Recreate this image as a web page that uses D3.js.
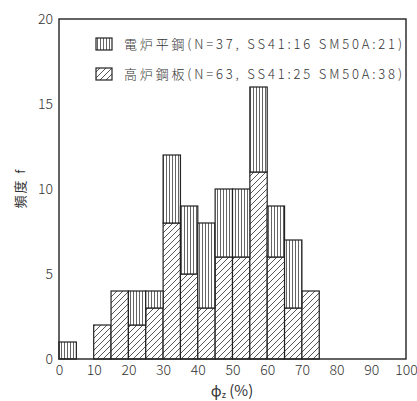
<!DOCTYPE html>
<html>
<head>
<meta charset="utf-8">
<script src="https://cdn.jsdelivr.net/npm/d3@7"></script>
<style>
  html, body { margin: 0; padding: 0; background: #fff; }
  svg { display: block; }
  text { font-family: "Noto Sans CJK JP", "Noto Sans", sans-serif; fill: #333; }
</style>
</head>
<body>
<svg id="chart" width="417" height="401"></svg>
<script>
// Bin starts (φz, %), bin width 5
const binStarts = [0, 5, 10, 15, 20, 25, 30, 35, 40, 45, 50, 55, 60, 65, 70];
const binWidth = 5;
// Counts per bin
const blastFurnacePlate = [0, 0, 2, 4, 2, 3, 8, 5, 3, 6, 6, 11, 6, 3, 4];   // 高炉鋼板
const electricFurnaceFlat = [1, 0, 0, 0, 2, 1, 4, 4, 5, 4, 4, 5, 3, 4, 0];  // 電炉平鋼
const seriesKeys = ["blast", "electric"];
const legendLabels = [
  "電炉平鋼(N=37, SS41:16 SM50A:21)",
  "高炉鋼板(N=63, SS41:25 SM50A:38)"
];
const xTicks = [0, 10, 20, 30, 40, 50, 60, 70, 80, 90, 100];
const yTicks = [0, 5, 10, 15, 20];

const svg = d3.select("#chart");
const plotLeft = 59, plotRight = 406, plotTop = 19, plotBottom = 359;

const x = d3.scaleLinear().domain([0, 100]).range([plotLeft, plotRight]);
const y = d3.scaleLinear().domain([0, 20]).range([plotBottom, plotTop]);

// Fill patterns: vertical lines for 電炉平鋼, diagonal hatch for 高炉鋼板
const defs = svg.append("defs");
const pv = defs.append("pattern").attr("id", "vlines")
  .attr("patternUnits", "userSpaceOnUse").attr("width", 3).attr("height", 10);
pv.append("rect").attr("width", 3).attr("height", 10).attr("fill", "#fff");
pv.append("line").attr("x1", 1.5).attr("x2", 1.5).attr("y1", 0).attr("y2", 10)
  .attr("stroke", "#555").attr("stroke-width", 0.9);
const pd = defs.append("pattern").attr("id", "diag")
  .attr("patternUnits", "userSpaceOnUse").attr("width", 6).attr("height", 6);
pd.append("rect").attr("width", 6).attr("height", 6).attr("fill", "#fff");
pd.append("path").attr("d", "M-1,1 l2,-2 M0,6 l6,-6 M5,7 l2,-2")
  .attr("stroke", "#444").attr("stroke-width", 0.9);
const fills = { blast: "url(#diag)", electric: "url(#vlines)" };

const rows = binStarts.map((b, i) => ({ bin: b, blast: blastFurnacePlate[i], electric: electricFurnaceFlat[i] }));
const stacked = d3.stack().keys(seriesKeys)(rows);

svg.append("g").selectAll("g").data(stacked).join("g")
  .attr("fill", d => fills[d.key])
  .selectAll("rect").data(d => d.filter(s => s[1] > s[0])).join("rect")
  .attr("x", d => x(d.data.bin))
  .attr("width", d => x(d.data.bin + binWidth) - x(d.data.bin))
  .attr("y", d => y(d[1]))
  .attr("height", d => y(d[0]) - y(d[1]))
  .attr("stroke", "#222").attr("stroke-width", 1.2);

// Frame
svg.append("rect").attr("x", plotLeft).attr("y", plotTop)
  .attr("width", plotRight - plotLeft).attr("height", plotBottom - plotTop)
  .attr("fill", "none").attr("stroke", "#222").attr("stroke-width", 1.4);

// Axes (labels only)
const xAxis = svg.append("g").attr("transform", `translate(0,${plotBottom})`)
  .call(d3.axisBottom(x).tickValues(xTicks).tickSize(0).tickPadding(6).tickFormat(d3.format("d")));
xAxis.select(".domain").remove();
xAxis.selectAll("text").attr("font-size", 14).attr("font-weight", 300).attr("fill", "#555");

const yAxis = svg.append("g").attr("transform", `translate(${plotLeft},0)`)
  .call(d3.axisLeft(y).tickValues(yTicks).tickSize(0).tickPadding(6).tickFormat(d3.format("d")));
yAxis.select(".domain").remove();
yAxis.selectAll("text").attr("font-size", 14).attr("font-weight", 300).attr("fill", "#555");

// Axis titles
const xt = svg.append("text").attr("x", 232).attr("y", 396)
  .attr("text-anchor", "middle").attr("font-size", 15).attr("fill", "#444");
xt.append("tspan").text("ϕ");
xt.append("tspan").attr("font-size", 9).attr("dy", 2).text("z");
xt.append("tspan").attr("dy", -2).text(" (%)");

svg.append("text").attr("transform", "translate(25,188) rotate(-90)")
  .attr("text-anchor", "middle").attr("font-size", 13).attr("fill", "#555")
  .attr("letter-spacing", 2)
  .text("頻度 f");

// Legend
const legendFills = ["url(#vlines)", "url(#diag)"];
const lg = svg.append("g");
legendLabels.forEach((lab, i) => {
  const yy = 44 + i * 30;
  lg.append("rect").attr("x", 96).attr("y", yy - 6).attr("width", 16).attr("height", 12)
    .attr("fill", legendFills[i]).attr("stroke", "#222").attr("stroke-width", 1.2);
  lg.append("text").attr("x", 124).attr("y", yy + 5)
    .attr("font-size", 13).attr("font-weight", 300).attr("fill", "#333")
    .attr("textLength", 278).attr("lengthAdjust", "spacing")
    .text(lab);
});
</script>
</body>
</html>
